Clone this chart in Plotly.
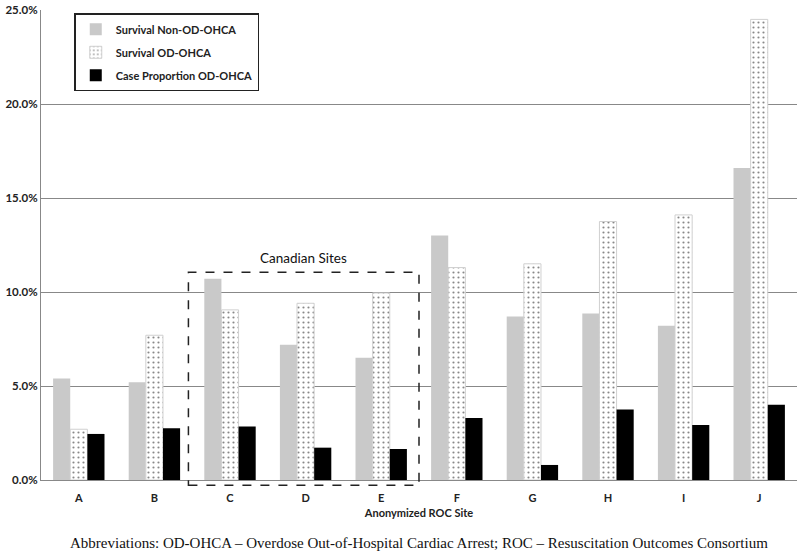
import plotly.graph_objects as go

sites = ["A", "B", "C", "D", "E", "F", "G", "H", "I", "J"]
survival_non_od = [5.4, 5.2, 10.7, 7.2, 6.5, 13.0, 8.7, 8.85, 8.2, 16.6]
survival_od = [2.7, 7.7, 9.05, 9.4, 9.95, 11.3, 11.5, 13.75, 14.1, 24.5]
case_prop_od = [2.45, 2.75, 2.85, 1.72, 1.65, 3.3, 0.8, 3.75, 2.93, 4.0]
y_ticks = [0, 5, 10, 15, 20, 25]

font_main = "Lato, 'Open Sans', sans-serif"

fig = go.Figure()
fig.add_trace(go.Bar(
    x=sites, y=survival_non_od, name="Survival Non-OD-OHCA",
    marker=dict(color="#c9c9c9", line=dict(width=0)), legendgroup="a"))
fig.add_trace(go.Bar(
    x=sites, y=survival_od, name="Survival OD-OHCA",
    marker=dict(color="white", line=dict(color="#d0d0d0", width=1),
                pattern=dict(shape=".", fgcolor="#111111", bgcolor="white",
                             size=5, solidity=0.15)),
    legendgroup="b"))
fig.add_trace(go.Bar(
    x=sites, y=case_prop_od, name="Case Proportion OD-OHCA",
    marker=dict(color="black", line=dict(width=0)), legendgroup="c"))

fig.update_layout(
    width=800, height=553,
    margin=dict(l=41, r=3, t=3, b=73),
    paper_bgcolor="white", plot_bgcolor="white",
    barmode="group", bargap=0.32, bargroupgap=0,
    font=dict(family=font_main, size=11, color="#222"),
    showlegend=True,
    legend=dict(x=0.044, y=0.993, xanchor="left", yanchor="top",
                bordercolor="#222", borderwidth=1.5, bgcolor="white",
                font=dict(size=11, family=font_main, color="#222", weight="bold"),
                tracegroupgap=4, itemwidth=30),
    xaxis=dict(showline=True, linecolor="#888", linewidth=1.2,
               ticks="", ticklabelstandoff=8,
               tickfont=dict(size=11, family=font_main, color="#222", weight="bold"),
               title=dict(text="Anonymized ROC Site", standoff=6,
                          font=dict(size=11, family=font_main, color="#222", weight="bold"))),
    yaxis=dict(range=[0, 25], tickvals=y_ticks,
               ticktext=[f"{v:.1f}%" for v in y_ticks],
               showline=True, linecolor="#888", linewidth=1.2,
               showgrid=True, gridcolor="#888", gridwidth=1,
               zeroline=False, ticks="", ticklabeloverflow="allow",
               tickfont=dict(size=11.5, family=font_main, color="#222", weight="bold")),
)

# Canadian Sites dashed box
fig.add_shape(type="rect", xref="x", yref="paper",
              x0=1.45, x1=4.5, y0=-0.011, y1=0.442,
              line=dict(color="#222", width=1.5, dash="dash"),
              fillcolor="rgba(0,0,0,0)", layer="above")
fig.add_annotation(xref="x", yref="paper", x=2.97, y=0.452,
                   text="Canadian Sites", showarrow=False,
                   yanchor="bottom",
                   font=dict(size=13.5, family=font_main, color="#111"))

fig.add_annotation(xref="paper", yref="paper", x=0.5, y=-0.135,
                   xanchor="center", yanchor="middle",
                   text="Abbreviations: OD-OHCA – Overdose Out-of-Hospital Cardiac Arrest; ROC – Resuscitation Outcomes Consortium",
                   showarrow=False,
                   font=dict(size=15, family="'Liberation Serif', 'DejaVu Serif', serif", color="#111"))

fig.write_html("out.html", config={"displayModeBar": False},
               post_script="document.body.style.margin='0';document.body.style.overflow='hidden';")
